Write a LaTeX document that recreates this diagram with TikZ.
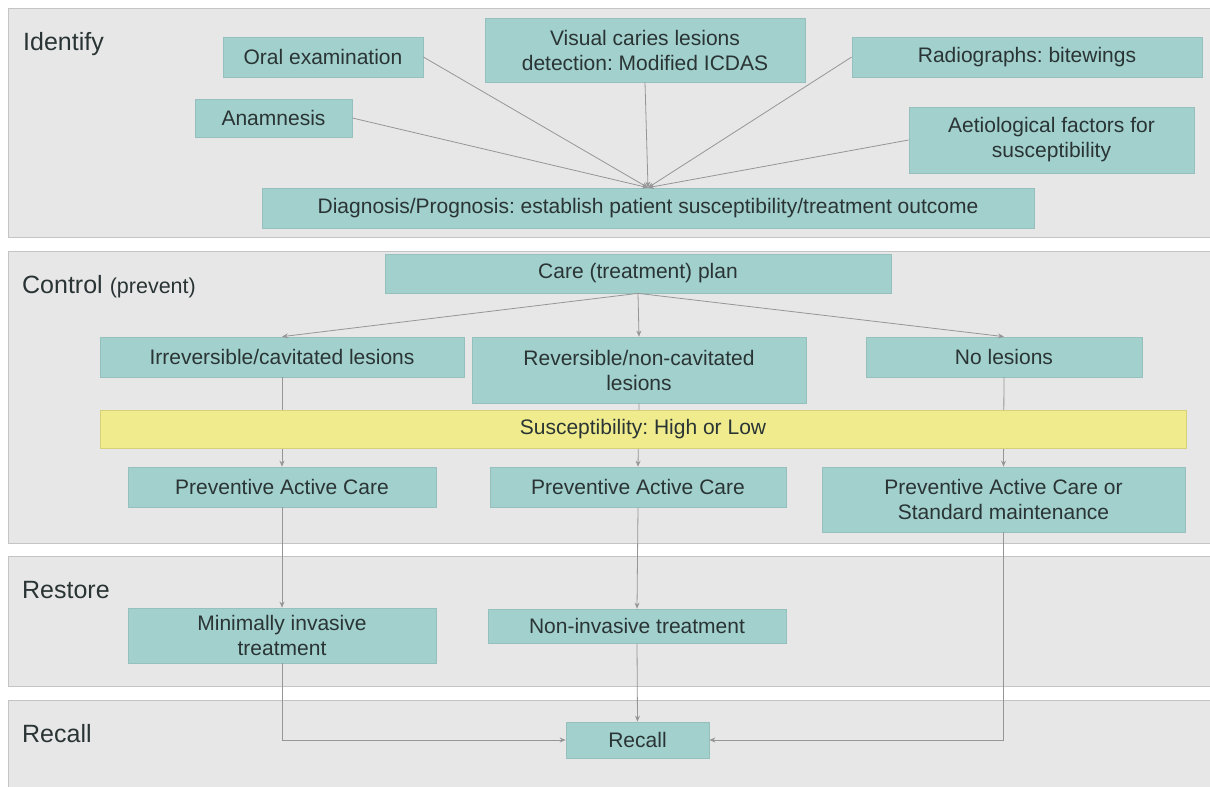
\documentclass[tikz,border=0pt]{standalone}
\usepackage{fontspec}
\setmainfont{Liberation Sans}
\frenchspacing
\usetikzlibrary{arrows.meta}
\definecolor{bandfill}{RGB}{231,231,232}
\definecolor{bandline}{RGB}{196,196,198}
\definecolor{boxfill}{RGB}{161,208,205}
\definecolor{boxline}{RGB}{150,192,189}
\definecolor{yel}{RGB}{240,236,142}
\definecolor{yelline}{RGB}{214,208,120}
\definecolor{conn}{RGB}{150,150,152}
\definecolor{txt}{RGB}{42,52,52}
\tikzset{
  band/.style={fill=bandfill, draw=bandline, line width=0.8pt},
  heading/.style={anchor=base west, inner sep=0pt, text=txt, font=\fontsize{25}{30}\selectfont},
  box/.style={draw=boxline, fill=boxfill, line width=0.7pt, inner sep=0pt, align=center,
    text=txt, font=\fontsize{21}{25}\selectfont},
  ybox/.style={box, draw=yelline, fill=yel},
  link/.style={draw=conn, line width=0.8pt, -{Stealth[length=6pt,width=5pt]}}
}
\begin{document}
\begin{tikzpicture}[x=1pt,y=-1pt]
\clip (0,0) rectangle (1210,787);
\fill[white] (0,0) rectangle (1210,787);
% bands
\draw[band] (8,8) rectangle (1216,237);
\draw[band] (8,251) rectangle (1216,543);
\draw[band] (8,556) rectangle (1216,686);
\draw[band] (8,700) rectangle (1216,795);
% headings
\node[heading] (hid) at (23,50) {Identify};
\node[heading] (hco) at (22,293) {Control\hspace{7pt}\fontsize{21.5}{25}\selectfont(prevent)};
\node[heading] (hre) at (22,598) {Restore};
\node[heading] (hrc) at (22,742) {Recall};
% identify boxes
\node[box, minimum width=200, minimum height=40] (oral) at (323,57) {Oral examination};
\node[box, minimum width=320, minimum height=64] (visual) at (645,50) {Visual caries lesions\\detection: Modified ICDAS};
\node[box, minimum width=350, minimum height=40] (radio) at (1027,57) {Radiographs: bitewings};
\node[box, minimum width=157, minimum height=38] (anam) at (273.5,118) {Anamnesis};
\node[box, minimum width=285, minimum height=66] (aetio) at (1051.5,140) {Aetiological factors for\\susceptibility};
\node[box, minimum width=772, minimum height=40] (diag) at (648,208) {Diagnosis/Prognosis: establish patient susceptibility/treatment outcome};
% control boxes
\node[box, minimum width=506, minimum height=39] (care) at (638,273.5) {Care (treatment) plan};
\node[box, minimum width=364, minimum height=40] (irrev) at (282,357) {Irreversible/cavitated lesions};
\node[box, minimum width=334, minimum height=66] (rev) at (639,370) {Reversible/non-cavitated\\lesions};
\node[box, minimum width=276, minimum height=40] (nol) at (1004,357) {No lesions};
\node[box, minimum width=308, minimum height=40] (pac1) at (282,487) {Preventive Active Care};
\node[box, minimum width=296, minimum height=40] (pac2) at (638,487) {Preventive Active Care};
\node[box, minimum width=363, minimum height=65] (pac3) at (1003.5,499.5) {Preventive Active Care or\\Standard maintenance};
% restore boxes
\node[box, minimum width=308, minimum height=55] (mit) at (282,635.5) {Minimally invasive\\treatment};
\node[box, minimum width=298, minimum height=34] (nit) at (637,626) {Non-invasive treatment};
% recall box
\node[box, minimum width=143, minimum height=36] (recall) at (637.5,740) {Recall};
% connectors: identify
\draw[link] (oral.east) -- (diag.north);
\draw[link] (anam.east) -- (diag.north);
\draw[link] (visual.south) -- (diag.north);
\draw[link] (radio.west) -- (diag.north);
\draw[link] (aetio.west) -- (diag.north);
% connectors: control
\draw[link] (care.south) -- (irrev.north);
\draw[link] (care.south) -- (rev.north);
\draw[link] (care.south) -- (nol.north);
\draw[link] (irrev.south) -- (pac1.north);
\draw[link] (rev.south) -- (pac2.north);
\draw[link] (nol.south) -- (pac3.north);
% susceptibility bar drawn over the vertical links
\node[ybox, minimum width=1086, minimum height=38] (susc) at (643,429) {Susceptibility: High or Low};
% connectors: restore and recall
\draw[link] (pac1.south) -- (mit.north);
\draw[link] (pac2.south) -- (nit.north);
\draw[link] (nit.south) -- (recall.north);
\draw[link] (mit.south) |- (recall.west);
\draw[link] (pac3.south) |- (recall.east);
\end{tikzpicture}
\end{document}
